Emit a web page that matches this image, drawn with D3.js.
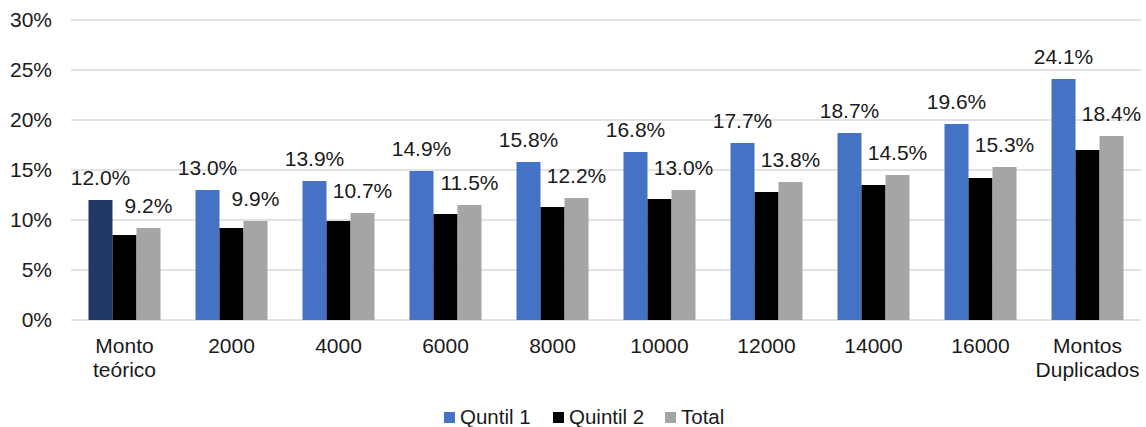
<!DOCTYPE html>
<html><head><meta charset="utf-8">
<script src="https://cdn.jsdelivr.net/npm/d3@7"></script>
<style>body{margin:0;background:#fff}svg{display:block;font-family:Arial,"Liberation Sans",sans-serif}</style>
</head><body><svg id="c" width="1146" height="427"></svg>
<script>
const categories = [["Monto","teórico"],["2000"],["4000"],["6000"],["8000"],["10000"],["12000"],["14000"],["16000"],["Montos","Duplicados"]];
const quintil1 = [12.0,13.0,13.9,14.9,15.8,16.8,17.7,18.7,19.6,24.1];
const quintil2 = [8.5,9.2,9.9,10.6,11.3,12.1,12.8,13.5,14.2,17.0];
const total = [9.2,9.9,10.7,11.5,12.2,13.0,13.8,14.5,15.3,18.4];
const yTicks = [0,5,10,15,20,25,30];
const seriesNames = ["Quntil 1","Quintil 2","Total"];
const colors = ["#4472C4","#000000","#A5A5A5"];
const firstBarColor = "#203864";

(function(){
const svg = d3.select("#c");
const pl = 71, pr = 1141, pt = 20, pb = 320;
const y = d3.scaleLinear().domain([0,30]).range([pb, pt]);
const x0 = d3.scaleBand().domain(d3.range(categories.length)).range([pl, pr]).paddingInner(0.327).paddingOuter(0.1635);
const x1 = d3.scaleBand().domain([0,1,2]).range([0, x0.bandwidth()]);
const fs = 21;

svg.append("g").selectAll("line").data(yTicks).join("line")
  .attr("x1", pl).attr("x2", pr).attr("y1", d=>y(d)).attr("y2", d=>y(d))
  .attr("stroke", "#d9d9d9").attr("stroke-width", 1.5);
svg.append("g").selectAll("text").data(yTicks).join("text")
  .attr("x", 52).attr("y", d=>y(d)).attr("dy", "0.35em").attr("text-anchor","end")
  .attr("font-size", fs).attr("fill","#1a1a1a").text(d=>d+"%");

const series = [quintil1, quintil2, total];
const g = svg.append("g");
series.forEach((vals, s) => {
  g.selectAll(null).data(vals).join("rect")
    .attr("x", (d,i)=>x0(i)+x1(s)).attr("width", x1.bandwidth())
    .attr("y", d=>y(d)).attr("height", d=>y(0)-y(d))
    .attr("fill", (d,i)=> (s===0 && i===0) ? firstBarColor : colors[s]);
});
[[0, quintil1],[2, total]].forEach(([s, vals]) => {
  g.selectAll(null).data(vals).join("text")
    .attr("x", (d,i)=>x0(i)+x1(s)+x1.bandwidth()/2).attr("y", d=>y(d)-15)
    .attr("text-anchor","middle").attr("font-size", fs).attr("fill","#1a1a1a")
    .text(d=>d.toFixed(1)+"%");
});
categories.forEach((lines, i) => {
  const t = svg.append("text").attr("text-anchor","middle").attr("font-size", fs).attr("fill","#1a1a1a");
  lines.forEach((ln, k) => {
    t.append("tspan").attr("x", x0(i)+x0.bandwidth()/2).attr("y", 353 + k*24).text(ln);
  });
});
const legX = [444, 553, 665];
seriesNames.forEach((n, s) => {
  svg.append("rect").attr("x", legX[s]).attr("y", 412).attr("width", 11).attr("height", 11).attr("fill", colors[s]);
  svg.append("text").attr("x", legX[s]+16).attr("y", 424).attr("font-size", 20.5).attr("fill","#1a1a1a").text(n);
});
})();
</script></body></html>
